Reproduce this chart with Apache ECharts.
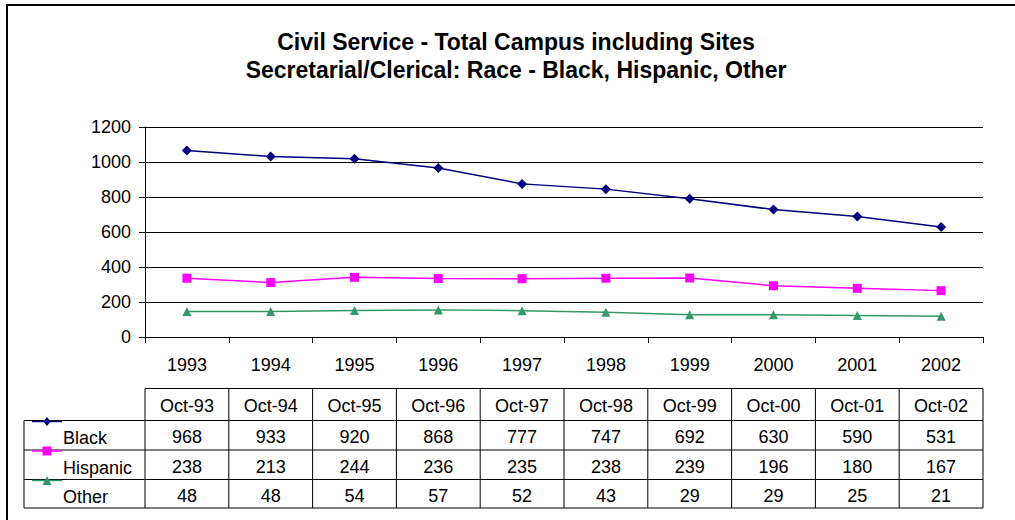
<!DOCTYPE html>
<html><head><meta charset="utf-8">
<script src="https://cdn.jsdelivr.net/npm/echarts@6/dist/echarts.min.js"></script>
<style>html,body{margin:0;padding:0;background:#fff}#c{width:1015px;height:520px}</style>
</head><body><div id="c"></div>
<script>
// ---- data ----
const years = ['1993','1994','1995','1996','1997','1998','1999','2000','2001','2002'];
const tableHeaders = ['Oct-93','Oct-94','Oct-95','Oct-96','Oct-97','Oct-98','Oct-99','Oct-00','Oct-01','Oct-02'];
const seriesNames = ['Black','Hispanic','Other'];
// values as plotted on the chart
const blackPlotted    = [1066, 1031, 1018, 966, 875, 845, 790, 728, 688, 629];
const hispanicPlotted = [336, 311, 341, 334, 333, 336, 337, 293, 278, 265];
const otherPlotted    = [146, 146, 152, 155, 150, 141, 127, 127, 123, 119];
// values printed in the data table
const blackTable    = [968, 933, 920, 868, 777, 747, 692, 630, 590, 531];
const hispanicTable = [238, 213, 244, 236, 235, 238, 239, 196, 180, 167];
const otherTable    = [48, 48, 54, 57, 52, 43, 29, 29, 25, 21];
const titleLines = ['Civil Service - Total Campus including Sites', 'Secretarial/Clerical: Race - Black, Hispanic, Other'];

const FONT = '"Liberation Sans", Arial, sans-serif';
const colors = ['#000080', '#FF00FF', '#339966'];
const symbols = ['diamond', 'rect', 'triangle'];
const symSizes = [10, 9, 9];

const chart = echarts.init(document.getElementById('c'), null, {renderer: 'svg'});

const GRID = {left: 145, right: 32, top: 127, height: 210};

chart.setOption({
  animation: false,
  backgroundColor: '#fff',
  grid: Object.assign({containLabel: false}, GRID),
  xAxis: {
    type: 'category', data: years, boundaryGap: true,
    axisLine: {show: true, lineStyle: {color: '#000', width: 1}},
    axisTick: {show: true, length: 6, lineStyle: {color: '#000'}},
    axisLabel: {color: '#000', fontSize: 18, fontFamily: FONT, margin: 19},
    splitLine: {show: false}
  },
  yAxis: {
    type: 'value', min: 0, max: 1200, interval: 200,
    axisLine: {show: true, lineStyle: {color: '#000', width: 1}},
    axisTick: {show: true, length: 6, lineStyle: {color: '#000'}},
    axisLabel: {color: '#000', fontSize: 18, fontFamily: FONT, margin: 14, formatter: v => String(v)},
    splitLine: {show: true, lineStyle: {color: '#000', width: 1}}
  },
  series: [blackPlotted, hispanicPlotted, otherPlotted].map((d, i) => ({
    name: seriesNames[i], type: 'line', data: d,
    symbol: symbols[i], symbolSize: symSizes[i], showSymbol: true,
    lineStyle: {color: colors[i], width: 1.5},
    itemStyle: {color: colors[i], borderWidth: 0}
  }))
});

// ---- title, data table and legend keys (graphic) ----
const g = [];
g.push({type: 'rect', shape: {x: 7, y: 5, width: 1030, height: 540}, style: {fill: null, stroke: '#000', lineWidth: 2}, silent: true});
g.push({type: 'text', style: {x: 516, y: 42, text: titleLines[0], align: 'center', verticalAlign: 'middle', font: 'bold 23px ' + FONT, fill: '#000'}});
g.push({type: 'text', style: {x: 516, y: 70, text: titleLines[1], align: 'center', verticalAlign: 'middle', font: 'bold 23px ' + FONT, fill: '#000'}});

const c0 = chart.convertToPixel({xAxisIndex: 0}, 0);
const c1 = chart.convertToPixel({xAxisIndex: 0}, 1);
const bw = c1 - c0;
const tableLeft = c0 - bw / 2;
const tableRight = chart.convertToPixel({xAxisIndex: 0}, years.length - 1) + bw / 2;
const legLeft = 24;
const rowY = [388.5, 420.5, 450, 479.5, 508];
const lineStyle = {stroke: '#000', lineWidth: 1};
// horizontal lines
g.push({type: 'line', shape: {x1: tableLeft, y1: rowY[0], x2: tableRight, y2: rowY[0]}, style: lineStyle});
for (let r = 1; r < rowY.length; r++) {
  g.push({type: 'line', shape: {x1: legLeft, y1: rowY[r], x2: tableRight, y2: rowY[r]}, style: lineStyle});
}
// vertical lines
g.push({type: 'line', shape: {x1: legLeft, y1: rowY[1], x2: legLeft, y2: rowY[4]}, style: lineStyle});
for (let i = 0; i <= years.length; i++) {
  const x = tableLeft + bw * i;
  g.push({type: 'line', shape: {x1: x, y1: rowY[0], x2: x, y2: rowY[4]}, style: lineStyle});
}
const tfont = '18px ' + FONT;
tableHeaders.forEach((h, i) => {
  const cx = chart.convertToPixel({xAxisIndex: 0}, i);
  g.push({type: 'text', style: {x: cx, y: (rowY[0] + rowY[1]) / 2 + 1, text: h, align: 'center', verticalAlign: 'middle', font: tfont, fill: '#000'}});
});
[blackTable, hispanicTable, otherTable].forEach((arr, r) => {
  const ym = (rowY[r + 1] + rowY[r + 2]) / 2 + 2;
  arr.forEach((v, i) => {
    const cx = chart.convertToPixel({xAxisIndex: 0}, i);
    g.push({type: 'text', style: {x: cx, y: ym, text: String(v), align: 'center', verticalAlign: 'middle', font: tfont, fill: '#000'}});
  });
  g.push({type: 'text', style: {x: 63, y: ym + 1, text: seriesNames[r], align: 'left', verticalAlign: 'middle', font: tfont, fill: '#000'}});
  // legend key
  const ky = rowY[r + 1] + 1;
  g.push({type: 'line', shape: {x1: 32, y1: ky, x2: 62, y2: ky}, style: {stroke: colors[r], lineWidth: 1.5}});
  const kx = 47, s = 4.5;
  let pts;
  if (symbols[r] === 'diamond') pts = [[kx, ky - s], [kx + s * 0.8, ky], [kx, ky + s], [kx - s * 0.8, ky]];
  else if (symbols[r] === 'rect') pts = [[kx - s, ky - s], [kx + s, ky - s], [kx + s, ky + s], [kx - s, ky + s]];
  else pts = [[kx, ky - s], [kx + s, ky + s], [kx - s, ky + s]];
  g.push({type: 'polygon', shape: {points: pts}, style: {fill: colors[r]}});
});

chart.setOption({graphic: g});
</script>
</body></html>
